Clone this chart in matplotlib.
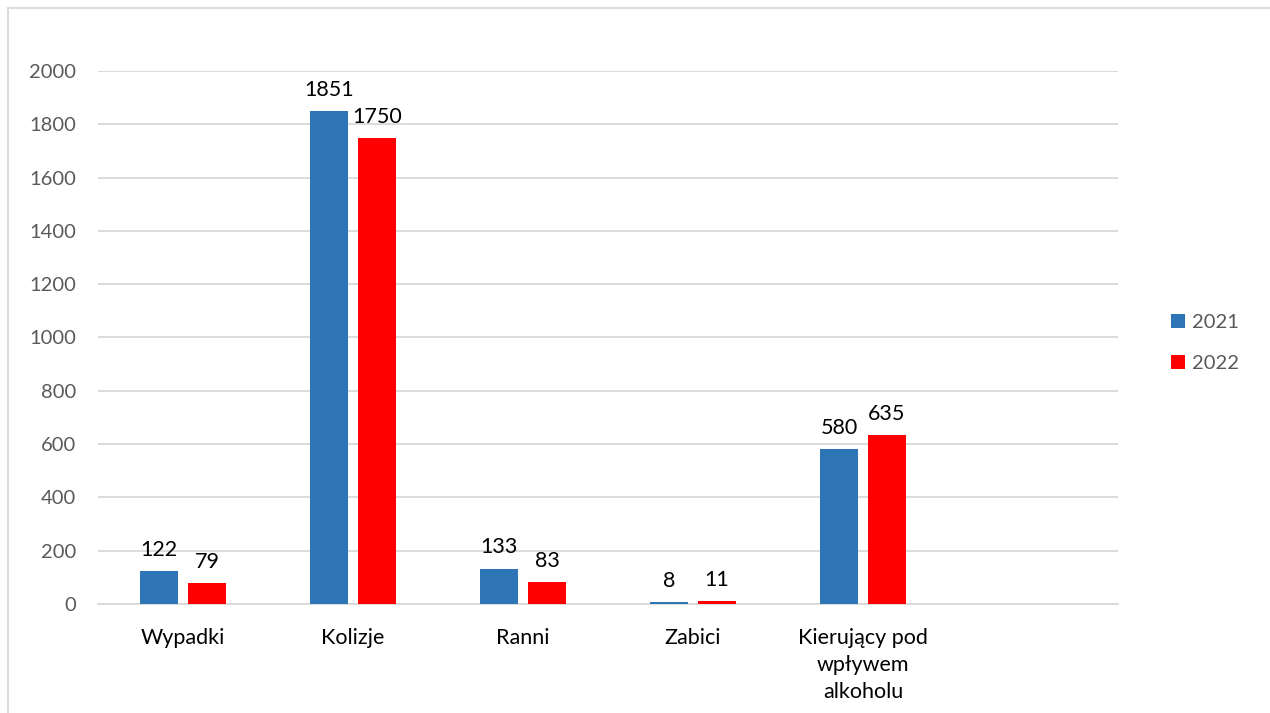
import numpy as np
import matplotlib.pyplot as plt
from matplotlib.lines import Line2D

plt.rcParams['font.family'] = ['Lato', 'DejaVu Sans']

# categories (last slot left empty, as in the source sheet)
categories = ['Wypadki', 'Kolizje', 'Ranni', 'Zabici', 'Kierujący pod\nwpływem\nalkoholu', '']
values_2021 = [122, 1851, 133, 8, 580]
values_2022 = [79, 1750, 83, 11, 635]
series_names = ['2021', '2022']
colors = ['#2E75B6', '#FF0000']

fig = plt.figure(figsize=(12.7, 7.13), dpi=100)
ax = fig.add_axes([0.0772, 0.1529, 0.8031, 0.7475])

x = np.arange(len(values_2021))
w = 0.224
off = 0.141
b1 = ax.bar(x - off, values_2021, w, color=colors[0], label=series_names[0], zorder=3)
b2 = ax.bar(x + off, values_2022, w, color=colors[1], label=series_names[1], zorder=3)

for bars, vals in ((b1, values_2021), (b2, values_2022)):
    for rect, v in zip(bars, vals):
        ax.annotate(str(v), (rect.get_x() + rect.get_width() / 2, v),
                    xytext=(0, 8), textcoords='offset points',
                    ha='center', va='bottom', fontsize=15.5, color='black')

ax.set_xlim(-0.5, len(categories) - 0.5)
ax.set_ylim(0, 2000)
ax.set_yticks(np.arange(0, 2001, 200))
ax.set_xticks(np.arange(len(categories)))
ax.set_xticklabels(categories, fontsize=15.5, color='black', linespacing=1.45)
ax.tick_params(axis='y', labelsize=14.5, labelcolor='#595959', length=0, pad=16)
ax.tick_params(axis='x', length=0, pad=17)
ax.grid(axis='y', color='#d9d9d9', linewidth=1.3, zorder=0)
for s in ['top', 'right', 'left']:
    ax.spines[s].set_visible(False)
ax.spines['bottom'].set_color('#d9d9d9')
ax.spines['bottom'].set_linewidth(1.3)

ax.legend(loc='center left', bbox_to_anchor=(0.908, 0.519), bbox_transform=fig.transFigure,
          frameon=False, fontsize=14.5, labelcolor='#595959', handlelength=0.7,
          handleheight=0.7, handletextpad=0.35, labelspacing=1.15)

# outer frame of the chart area
fig.add_artist(Line2D([8 / 1270, 8 / 1270], [0, 1 - 8 / 713], color='#d9d9d9', lw=1.3))
fig.add_artist(Line2D([8 / 1270, 1], [1 - 8 / 713, 1 - 8 / 713], color='#d9d9d9', lw=1.3))

fig.savefig('out.png', dpi=100)
